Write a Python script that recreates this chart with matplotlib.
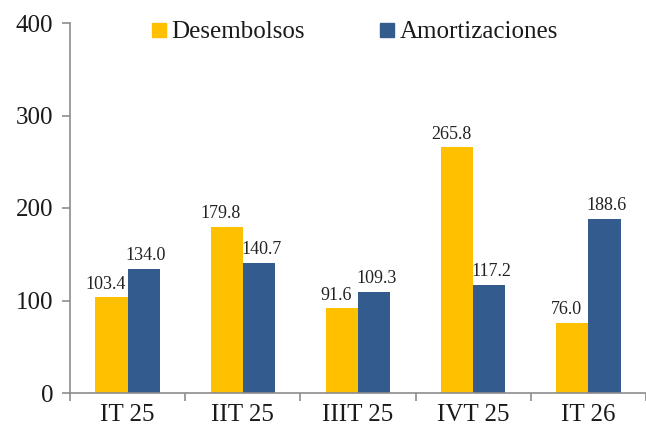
import matplotlib.pyplot as plt
import numpy as np
from matplotlib.lines import Line2D

plt.rcParams['font.family'] = ['Liberation Serif', 'DejaVu Serif']

categorias = ['IT 25', 'IIT 25', 'IIIT 25', 'IVT 25', 'IT 26']
desembolsos = [103.4, 179.8, 91.6, 265.8, 76.0]
amortizaciones = [134.0, 140.7, 109.3, 117.2, 188.6]

oro = '#FFC000'
azul = '#335B8E'
gris = '#8C8C8C'

fig = plt.figure(figsize=(6.46, 4.32), dpi=100)
ax = fig.add_axes([70/646, 1-393/432, 576/646, 370/432])

x = np.arange(len(categorias))
w = 0.28
b1 = ax.bar(x - w/2, desembolsos, w, color=oro)
b2 = ax.bar(x + w/2, amortizaciones, w, color=azul)

for rect, v in zip(b1, desembolsos):
    ax.text(rect.get_x() + rect.get_width()/2 - 0.05, v + 5, '%.1f' % v,
            ha='center', va='bottom', fontsize=13, color='#222222')
for rect, v in zip(b2, amortizaciones):
    ax.text(rect.get_x() + rect.get_width()/2 + 0.02, v + 5, '%.1f' % v,
            ha='center', va='bottom', fontsize=13, color='#222222')

ax.set_xlim(-0.5, -0.5 + 576/116)
ax.set_ylim(0, 400)
ax.set_yticks([0, 100, 200, 300, 400])
ax.tick_params(axis='y', labelsize=18, length=6, color=gris, width=1.2, pad=6,
               labelcolor='#1a1a1a')

ax.set_xticks(x)
ax.set_xticklabels(categorias)
ax.set_xticks(np.arange(len(categorias) + 1) - 0.5, minor=True)
ax.tick_params(axis='x', which='major', length=0, labelsize=18, pad=8,
               labelcolor='#1a1a1a')
ax.tick_params(axis='x', which='minor', length=6, color=gris, width=1.2)

for s in ['top', 'right']:
    ax.spines[s].set_visible(False)
for s in ['left', 'bottom']:
    ax.spines[s].set_color(gris)
    ax.spines[s].set_linewidth(1.2)

handles = [Line2D([], [], marker='s', linestyle='', color=oro, markersize=10),
           Line2D([], [], marker='s', linestyle='', color=azul, markersize=10)]
fig.legend(handles, ['Desembolsos', 'Amortizaciones'], loc='center',
           bbox_to_anchor=(352/646, 1-32/432), ncol=2, frameon=False,
           fontsize=18, handletextpad=0.0, columnspacing=2.8, handlelength=1.0,
           labelcolor='#1a1a1a')

fig.savefig('out.png', dpi=100)
